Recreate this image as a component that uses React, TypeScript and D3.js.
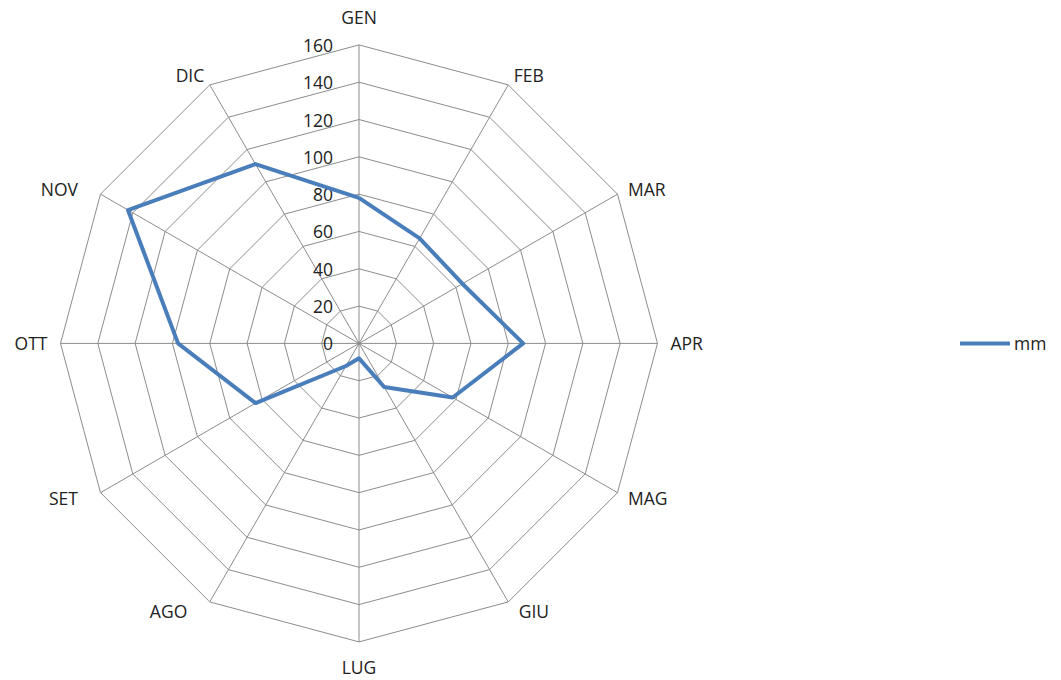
import React from "react";
import * as d3 from "d3";

const months = ["GEN", "FEB", "MAR", "APR", "MAG", "GIU", "LUG", "AGO", "SET", "OTT", "NOV", "DIC"];
const mm = [78, 65, 64, 88, 58, 27, 8, 14, 64, 97, 143, 111];
const ticks = [0, 20, 40, 60, 80, 100, 120, 140, 160];
const seriesName = "mm";

const W = 1061;
const H = 680;
const CX = 359;
const CY = 343.4;
const R = 298.5;
const FONT = "'Open Sans', 'Noto Sans', sans-serif";
const GRID = "#8c8c8c";
const BLUE = "#4a7ebb";

export default function App() {
  const r = d3.scaleLinear().domain([0, 160]).range([0, R]);
  const angle = d3
    .scaleLinear()
    .domain([0, months.length])
    .range([0, 2 * Math.PI]);

  const pt = (i: number, v: number): [number, number] => {
    const a = angle(i);
    return [CX + Math.sin(a) * r(v), CY - Math.cos(a) * r(v)];
  };

  const ringPath = (v: number) =>
    d3.line()(months.map((_, i) => pt(i, v)).concat([pt(0, v)])) || "";

  const dataPath =
    d3.line()(mm.map((v, i) => pt(i, v)).concat([pt(0, mm[0])])) || "";

  return (
    <svg
      width={W}
      height={H}
      style={{ position: "absolute", left: 0, top: 0, background: "#fff" }}
      fontFamily={FONT}
    >
      <rect x={0} y={0} width={W} height={H} fill="#fff" />
      {ticks.slice(1).map((t) => (
        <path key={"ring" + t} d={ringPath(t)} fill="none" stroke={GRID} strokeWidth={1} />
      ))}
      {months.map((m, i) => {
        const [x, y] = pt(i, 160);
        return <line key={"spoke" + m} x1={CX} y1={CY} x2={x} y2={y} stroke={GRID} strokeWidth={1} />;
      })}
      {ticks.map((t) => (
        <text
          key={"tick" + t}
          x={CX - 26}
          y={CY - r(t)}
          textAnchor="end"
          dominantBaseline="central"
          fontSize={17.5}
          fill="#222"
        >
          {t}
        </text>
      ))}
      {months.map((m, i) => {
        const a = angle(i);
        const s = Math.sin(a);
        const c = Math.cos(a);
        const [vx, vy] = pt(i, 160);
        let x = vx;
        let y = vy;
        let anchor: "start" | "end" | "middle" = "middle";
        if (Math.abs(s) < 0.01) {
          y = c > 0 ? vy - 28 : vy + 25;
        } else {
          const left = s < 0;
          const isSide = Math.abs(s) > 0.99;
          const diagTop = Math.abs(c) > 0.8;
          let gap = isSide ? 13 : 10.5;
          if (diagTop && c > 0) gap = 5.5;
          if (left && !isSide && !(diagTop && c > 0)) gap += 12;
          anchor = left ? "end" : "start";
          x = vx + (left ? -gap : gap);
          y = vy - c * 11;
        }
        return (
          <text
            key={"lab" + m}
            x={x}
            y={y}
            textAnchor={anchor}
            dominantBaseline="central"
            fontSize={17.5}
            fill="#222"
          >
            {m}
          </text>
        );
      })}
      <path d={dataPath} fill="none" stroke={BLUE} strokeWidth={4} strokeLinejoin="round" />
      <line x1={960} y1={CY} x2={1010} y2={CY} stroke={BLUE} strokeWidth={4} />
      <text x={1014} y={CY} dominantBaseline="central" fontSize={17.5} fill="#222">
        {seriesName}
      </text>
    </svg>
  );
}
